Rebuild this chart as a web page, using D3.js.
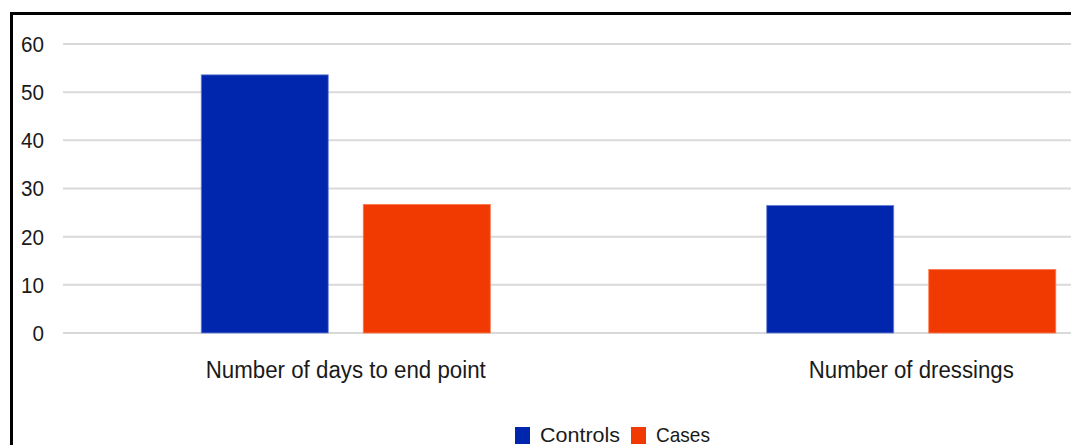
<!DOCTYPE html>
<html><head><meta charset="utf-8">
<script src="https://cdn.jsdelivr.net/npm/d3@7"></script>
<style>body{margin:0;background:#fff}svg{display:block}text{font-family:"Liberation Sans",Arial,sans-serif;fill:#1a1a1a}</style>
</head><body><svg id="c" width="1071" height="445"></svg>
<script>
const categories = ["Number of days to end point", "Number of dressings"];
const series = ["Controls", "Cases"];
const controls = [53.6, 26.5];
const cases = [26.7, 13.2];
const yTicks = [0, 10, 20, 30, 40, 50, 60];
const colors = {Controls: "#0026ad", Cases: "#f03a02"};
const strokes = {Controls: "#6f86d8", Cases: "#ff7a50"};

const svg = d3.select("#c");
const x0 = d3.scaleBand().domain(categories).range([63, 1194]).paddingInner(0).paddingOuter(0);
const x1 = d3.scaleBand().domain(series).range([0, x0.bandwidth()]).paddingInner(0.216).paddingOuter(0.853);
const y = d3.scaleLinear().domain([0, 60]).range([333, 44]);

// frame
svg.append("path").attr("d", "M11.5,1071 L11.5,13.5 L1071,13.5").attr("fill", "none").attr("stroke", "#000").attr("stroke-width", 3);

// gridlines
svg.append("g").selectAll("line").data(yTicks).join("line")
  .attr("x1", 63).attr("x2", 1071).attr("y1", d => y(d)).attr("y2", d => y(d))
  .attr("stroke", "#d9d9d9").attr("stroke-width", 2);

// y labels
svg.append("g").selectAll("text").data(yTicks).join("text")
  .attr("x", 44).attr("y", d => y(d)).attr("dy", "0.36em").attr("text-anchor", "end")
  .attr("font-size", 22).attr("textLength", d => String(d).length * 11.5).attr("lengthAdjust", "spacingAndGlyphs")
  .text(d => d);

// bars
const rows = categories.map((c, i) => ({c, vals: [{s: "Controls", v: controls[i]}, {s: "Cases", v: cases[i]}]}));
const g = svg.append("g").selectAll("g").data(rows).join("g").attr("transform", d => `translate(${x0(d.c)},0)`);
g.selectAll("rect").data(d => d.vals).join("rect")
  .attr("x", d => x1(d.s)).attr("width", x1.bandwidth())
  .attr("y", d => y(d.v)).attr("height", d => y(0) - y(d.v))
  .attr("fill", d => colors[d.s]).attr("stroke", d => strokes[d.s]).attr("stroke-width", 0.8);

// category labels
const catWidths = [280, 205];
svg.append("g").selectAll("text").data(categories).join("text")
  .attr("x", d => x0(d) + x1("Controls") + (x1("Cases") + x1.bandwidth() - x1("Controls")) / 2)
  .attr("y", 378).attr("text-anchor", "middle").attr("font-size", 23)
  .attr("textLength", (d, i) => catWidths[i]).attr("lengthAdjust", "spacingAndGlyphs")
  .text(d => d);

// legend
const leg = [{s: "Controls", x: 515, tw: 80}, {s: "Cases", x: 631, tw: 54}];
const lg = svg.append("g").selectAll("g").data(leg).join("g");
lg.append("rect").attr("x", d => d.x).attr("y", 427).attr("width", 15).attr("height", 17).attr("fill", d => colors[d.s]);
lg.append("text").attr("x", d => d.x + 25).attr("y", 442).attr("font-size", 21)
  .attr("textLength", d => d.tw).attr("lengthAdjust", "spacingAndGlyphs").text(d => d.s);
</script></body></html>
